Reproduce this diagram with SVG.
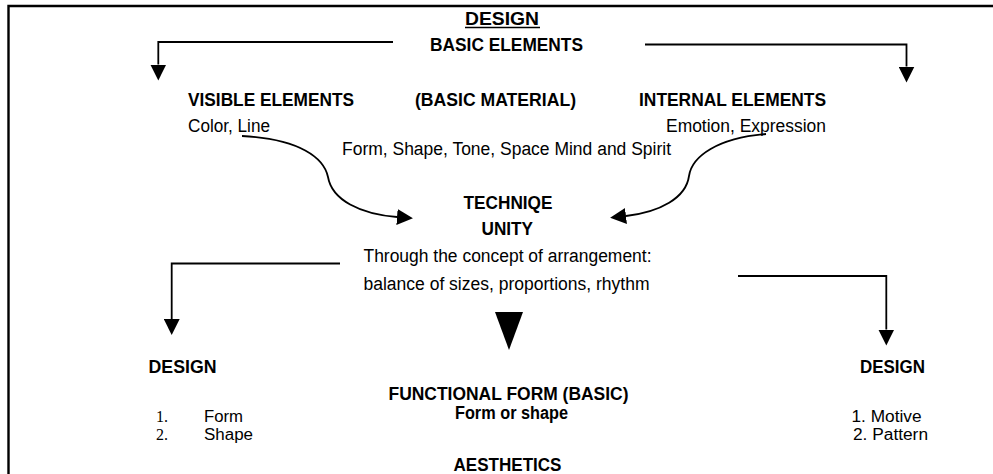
<svg xmlns="http://www.w3.org/2000/svg" width="993" height="474" viewBox="0 0 993 474">
<style>
text{font-family:"Liberation Sans",Arial,sans-serif;font-size:18px;fill:#000}
.b{font-weight:bold}
.s{font-family:"Liberation Serif","Times New Roman",serif}
.li{font-size:16px}
.ln{fill:none;stroke:#000;stroke-width:1.8}
.frame{fill:none;stroke:#000;stroke-width:2.4}
</style>
<defs>
<marker id="ah" markerUnits="userSpaceOnUse" markerWidth="16" markerHeight="16" viewBox="0 0 16 16" refX="0" refY="8" orient="auto">
<path d="M0,0 L16,8 L0,16 Z" fill="#000"/>
</marker>
</defs>
<path class="frame" d="M8.5 474 V6 H993"/>
<g id="connectors">
<path class="ln" d="M393 42 H158.3 V64.5" marker-end="url(#ah)"/>
<path class="ln" d="M645 44.5 H906.5 V66.5" marker-end="url(#ah)"/>
<path class="ln" d="M242 136 C300 139,324 158,328 177 C332 200,360 214,397 217" marker-end="url(#ah)"/>
<path class="ln" d="M766 134 C718 138,692 156,689 176 C686 198,660 212,626 216" marker-end="url(#ah)"/>
<path class="ln" d="M340 263.5 H171.7 V319" marker-end="url(#ah)"/>
<path class="ln" d="M738 276 H886.3 V329.5" marker-end="url(#ah)"/>
<polygon points="495,312 523,312 509,350" fill="#000"/>
</g>
<g id="n-design-top">
<text class="b" x="465" y="25" textLength="74" lengthAdjust="spacingAndGlyphs">DESIGN</text>
<line x1="465" y1="27.5" x2="540" y2="27.5" stroke="#000" stroke-width="1.3"/>
<text class="b" x="430" y="51" textLength="153" lengthAdjust="spacingAndGlyphs">BASIC ELEMENTS</text>
</g>
<g id="n-visible">
<text class="b" x="188" y="106" textLength="166" lengthAdjust="spacingAndGlyphs">VISIBLE ELEMENTS</text>
<text x="188" y="131.5" textLength="82" lengthAdjust="spacingAndGlyphs">Color, Line</text>
</g>
<g id="n-material">
<text class="b" x="415" y="106" textLength="161" lengthAdjust="spacingAndGlyphs">(BASIC MATERIAL)</text>
<text x="342" y="155" textLength="329" lengthAdjust="spacingAndGlyphs">Form, Shape, Tone, Space Mind and Spirit</text>
</g>
<g id="n-internal">
<text class="b" x="639" y="106" textLength="187" lengthAdjust="spacingAndGlyphs">INTERNAL ELEMENTS</text>
<text x="666" y="131.5" textLength="160" lengthAdjust="spacingAndGlyphs">Emotion, Expression</text>
</g>
<g id="n-technique">
<text class="b" x="463.5" y="208.5" textLength="89" lengthAdjust="spacingAndGlyphs">TECHNIQE</text>
<text class="b" x="481.5" y="235" textLength="51.5" lengthAdjust="spacingAndGlyphs">UNITY</text>
<text x="363.5" y="261.5" textLength="288" lengthAdjust="spacingAndGlyphs">Through the concept of arrangement:</text>
<text x="363.5" y="290" textLength="286" lengthAdjust="spacingAndGlyphs">balance of sizes, proportions, rhythm</text>
</g>
<g id="n-design-left">
<text class="b" x="148.5" y="373" textLength="68" lengthAdjust="spacingAndGlyphs">DESIGN</text>
<text class="s li" x="156" y="421.5">1.</text>
<text class="li" x="204" y="421.5" textLength="39" lengthAdjust="spacingAndGlyphs">Form</text>
<text class="s li" x="156" y="439.5">2.</text>
<text class="li" x="204" y="439.5" textLength="49" lengthAdjust="spacingAndGlyphs">Shape</text>
</g>
<g id="n-functional">
<text class="b" x="388.5" y="400" textLength="240" lengthAdjust="spacingAndGlyphs">FUNCTIONAL FORM (BASIC)</text>
<text class="b" x="455" y="418.5" textLength="113" lengthAdjust="spacingAndGlyphs">Form or shape</text>
<text class="b" x="453.5" y="471" textLength="108" lengthAdjust="spacingAndGlyphs">AESTHETICS</text>
</g>
<g id="n-design-right">
<text class="b" x="860" y="373" textLength="65" lengthAdjust="spacingAndGlyphs">DESIGN</text>
<text class="li" x="851.5" y="421.5" textLength="70" lengthAdjust="spacingAndGlyphs">1. Motive</text>
<text class="li" x="853" y="439.5" textLength="75" lengthAdjust="spacingAndGlyphs">2. Pattern</text>
</g>
</svg>
